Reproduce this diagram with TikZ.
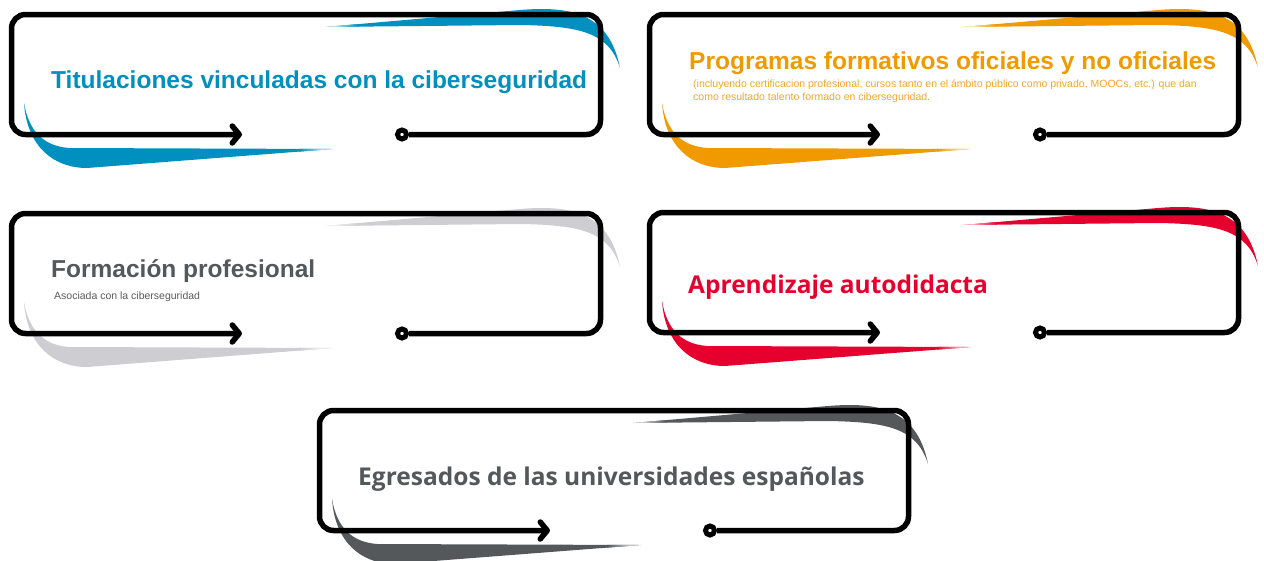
\documentclass[tikz,border=0pt]{standalone}
\usepackage{fontspec}
\setmainfont{Liberation Sans}
\newfontfamily\opensans{Open Sans}
\usepackage{tikz}
\usetikzlibrary{arrows.meta, positioning}

\definecolor{cblue}{RGB}{0,144,192}
\definecolor{corange}{RGB}{240,154,0}
\definecolor{csuborange}{RGB}{242,166,40}
\definecolor{clight}{RGB}{205,205,210}
\definecolor{cred}{RGB}{230,0,45}
\definecolor{cdark}{RGB}{84,88,90}
\definecolor{csub}{RGB}{90,90,90}

\begin{document}
\begin{tikzpicture}[x=1pt, y=-1pt,
    frame/.style={draw, line width=5.5pt, rounded corners=14pt,
      -{Straight Barb[length=7pt, width=17pt, line cap=round, line join=round]}},
    ring/.style={draw, circle, line width=5pt, fill=white, minimum size=9pt, inner sep=0pt},
    title/.style={anchor=base west, inner sep=0pt, font=\bfseries\fontsize{24.5}{28}\selectfont},
    titleos/.style={anchor=base west, inner sep=0pt, font=\opensans\bfseries\fontsize{24.5}{28}\selectfont},
    sub/.style={anchor=north west, inner sep=0pt, align=left, font=\fontsize{10.5}{12.5}\selectfont},
    pics/cyberbox/.style={code={
      % swooshes behind the frame, tips fading out
      \fill[#1] (316,15) -- (511,-2) .. controls (560,-6) and (600,0) .. (611,56)
        .. controls (600,20) and (570,14) .. (511,13) -- cycle;
      \shade[left color=white, right color=#1] (315,15) -- (350,12) -- (350,14.65) -- cycle;
      \fill[#1] (15,91) .. controls (18,135) and (45,156) .. (78,156) -- (324,137) -- (60,136)
        .. controls (35,134) and (20,120) .. (15,91) -- cycle;
      \shade[left color=#1, right color=white] (290,136.9) -- (290,139.6) -- (325,137) -- cycle;
      \node[ring] (-dot) at (393,122.5) {};
      \coordinate (-tip) at (233,122.5);
      \draw[frame] (-dot) -- (591.5,122.5) -- (591.5,2.5) -- (2.5,2.5) -- (2.5,122.5) -- (-tip);
    }}]
    \useasboundingbox (0,0) rectangle (1264,560);

    \pic (box1) at (9,12) {cyberbox=cblue};
    \pic (box2) at (647,12) {cyberbox=corange};
    \pic (box3) at (9,211) {cyberbox=clight};
    \pic (box4) at (647,210) {cyberbox=cred};
    \pic (box5) at (317,408) {cyberbox=cdark};

    \node[title, text=cblue] (t1) at (51,88) {Titulaciones vinculadas con la ciberseguridad};
    \node[title, text=corange] (t2) at (689,69) {Programas formativos oficiales y no oficiales};
    \node[sub, text=csuborange] (s2) at (693,80) {(incluyendo certificacion profesional, cursos tanto en el ámbito público como privado, MOOCs, etc.) que dan\\como resultado talento formado en ciberseguridad.};
    \node[title, text=cdark] (t3) at (51,277) {Formación profesional};
    \node[sub, text=csub] (s3) at (54,292) {Asociada con la ciberseguridad};
    \node[titleos, text=cred] (t4) at (688,293) {Aprendizaje autodidacta};
    \node[titleos, text=cdark] (t5) at (358,485) {Egresados de las universidades españolas};
\end{tikzpicture}
\end{document}
